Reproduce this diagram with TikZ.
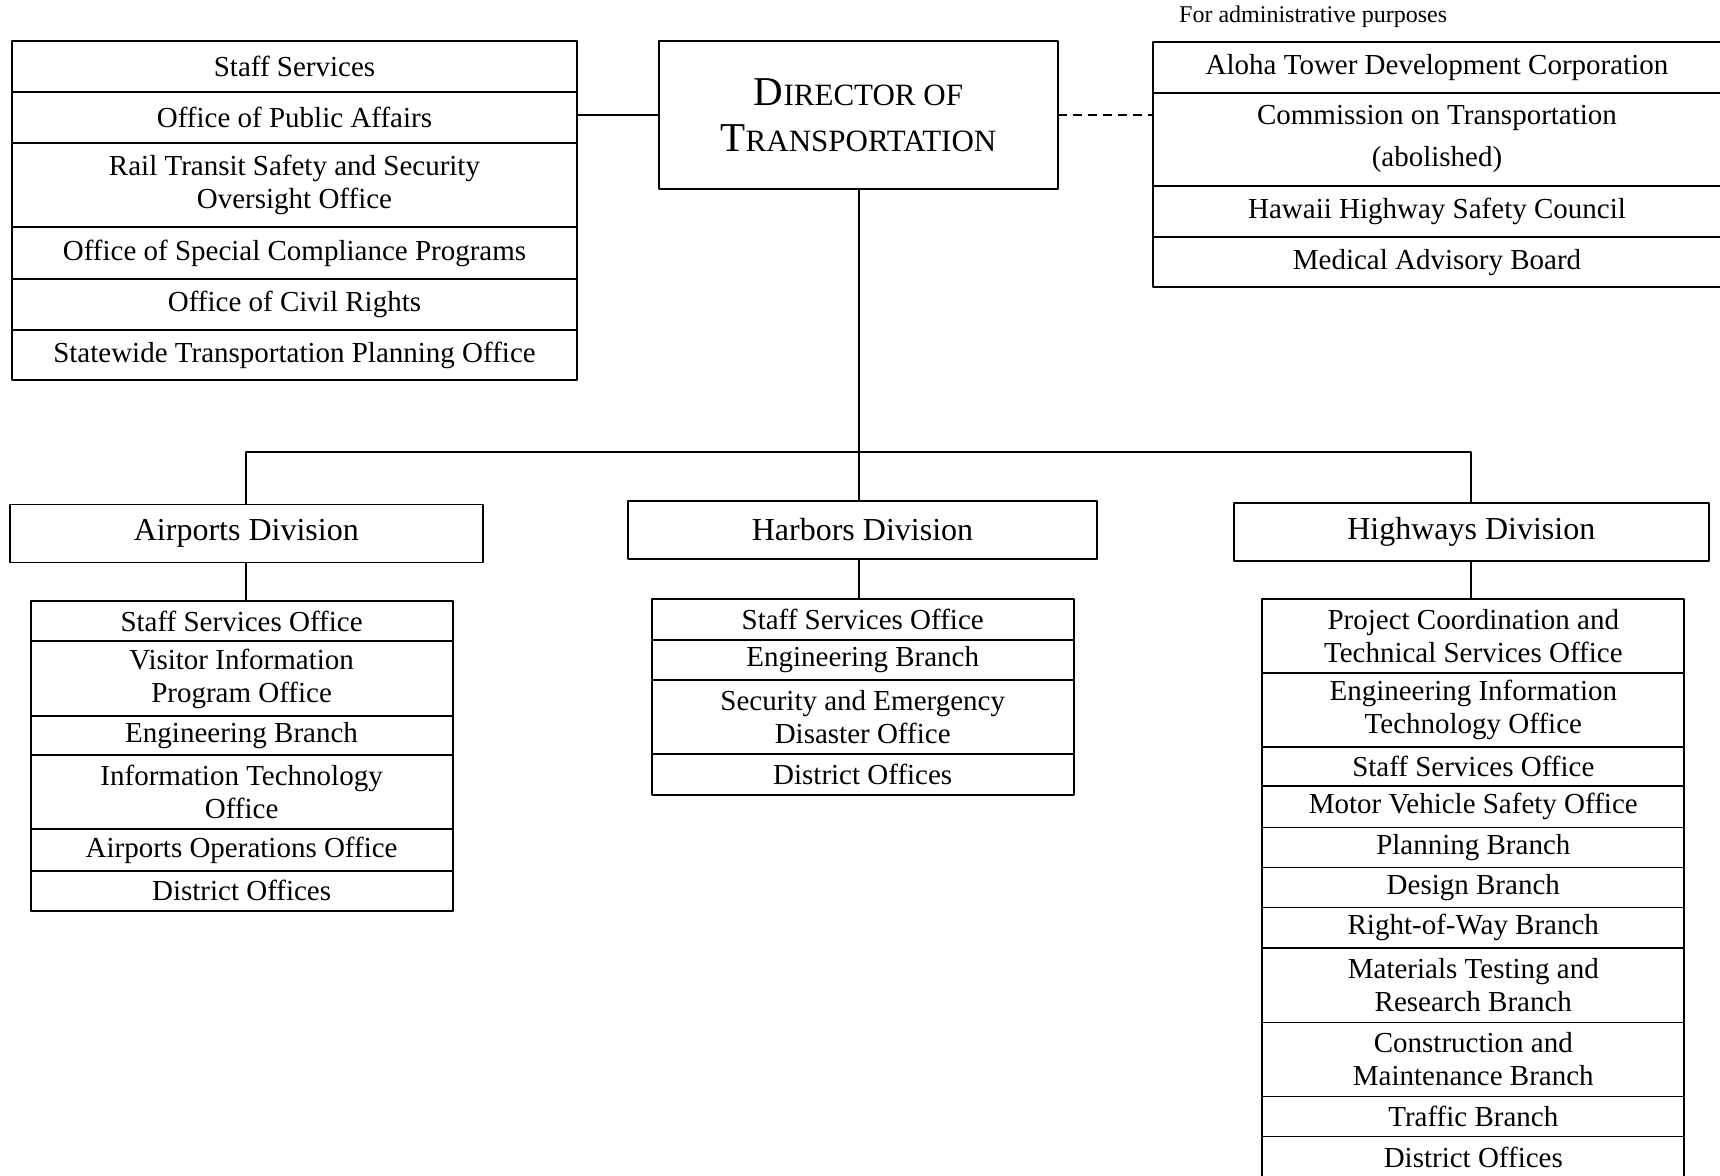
\documentclass[tikz,border=0pt]{standalone}
\usepackage{fontspec}
\setmainfont{Liberation Serif}
\newcommand{\cellfont}{\fontsize{29bp}{33bp}\selectfont}
\newcommand{\divfont}{\fontsize{32bp}{36bp}\selectfont}
\newcommand{\dirfont}{\fontsize{41bp}{46bp}\selectfont}
\newcommand{\lowcaps}[1]{{\fontsize{31bp}{46bp}\selectfont #1}}
\begin{document}
\begin{tikzpicture}[line join=bevel,
  unit/.style={draw,line width=1.8bp,inner sep=0pt,outer sep=0pt,align=center,font=\cellfont},
  leftcol/.style={unit,minimum width=565bp},
  rightcol/.style={unit,minimum width=580bp},
  subcol/.style={unit,minimum width=422bp},
  division/.style={unit,font=\divfont,minimum height=58bp},
  link/.style={line width=2bp},
  adminlink/.style={link,dash pattern=on 9bp off 6bp},
]
\useasboundingbox (0bp,0bp) rectangle (1720bp,1176bp);
%%
\node (director) at (858.5bp,1061.0bp) [unit,line width=1.5bp,font=\dirfont,minimum width=399bp,minimum height=148bp] {D\lowcaps{IRECTOR OF}\\T\lowcaps{RANSPORTATION}};
%
  \node (left_1) at (294.5bp,1109.8bp) [leftcol,minimum height=51bp] {Staff Services};
  \node (left_2) at (294.5bp,1058.8bp) [leftcol,minimum height=51bp] {Office of Public Affairs};
  \node (left_3) at (294.5bp,991.0bp) [leftcol,minimum height=84.6bp] {Rail Transit Safety and Security\\Oversight Office};
  \node (left_4) at (294.5bp,923.0bp) [leftcol,minimum height=51.4bp] {Office of Special Compliance Programs};
  \node (left_5) at (294.5bp,871.6bp) [leftcol,minimum height=51.3bp] {Office of Civil Rights};
  \node (left_6) at (294.5bp,821.0bp) [leftcol,minimum height=50bp] {Statewide Transportation Planning Office};
%
  \node (admin_note) at (1179bp,1153bp) [anchor=base west,inner sep=0pt,font=\fontsize{24bp}{28bp}\selectfont] {For administrative purposes};
  \node (right_1) at (1443bp,1108.6bp) [rightcol,minimum height=50.7bp] {\hspace*{-12bp}Aloha Tower Development Corporation};
  \node (right_2) at (1443bp,1036.8bp) [rightcol,minimum height=93bp] {\hspace*{-12bp}Commission on Transportation\\[9bp]\hspace*{-12bp}(abolished)};
  \node (right_3) at (1443bp,964.6bp) [rightcol,minimum height=51.3bp] {\hspace*{-12bp}Hawaii Highway Safety Council};
  \node (right_4) at (1443bp,913.8bp) [rightcol,minimum height=50.3bp] {\hspace*{-12bp}Medical Advisory Board};
%
  \node (air_div) at (246.3bp,642.5bp) [division,minimum width=473.4bp] {Airports Division};
  \node (harb_div) at (862.5bp,646.3bp) [division,minimum width=469bp] {Harbors Division};
  \node (hwy_div) at (1471.3bp,644.0bp) [division,minimum width=475.3bp] {Highways Division};
%
  \node (air_1) at (241.6bp,555.0bp) [subcol,minimum height=40bp] {Staff Services Office};
  \node (air_2) at (241.6bp,497.5bp) [subcol,minimum height=75bp] {Visitor Information\\Program Office};
  \node (air_3) at (241.6bp,440.3bp) [subcol,minimum height=39.3bp] {Engineering Branch};
  \node (air_4) at (241.6bp,383.7bp) [subcol,minimum height=74bp] {Information Technology\\Office};
  \node (air_5) at (241.6bp,326.0bp) [subcol,minimum height=41.4bp] {Airports Operations Office};
  \node (air_6) at (241.6bp,285.3bp) [subcol,minimum height=40bp] {District Offices};
%
  \node (harb_1) at (862.7bp,556.3bp) [subcol,minimum height=40.7bp] {Staff Services Office};
  \node (harb_2) at (862.7bp,516.0bp) [subcol,minimum height=40bp] {Engineering Branch};
  \node (harb_3) at (862.7bp,459.1bp) [subcol,minimum height=73.7bp] {Security and Emergency\\Disaster Office};
  \node (harb_4) at (862.7bp,401.8bp) [subcol,minimum height=41bp] {District Offices};
%
  \node (hwy_1) at (1473.3bp,540.0bp) [subcol,minimum height=74bp] {Project Coordination and\\Technical Services Office};
  \node (hwy_2) at (1473.3bp,466.1bp) [subcol,minimum height=73.8bp] {Engineering Information\\Technology Office};
  \node (hwy_3) at (1473.3bp,409.4bp) [subcol,minimum height=39.5bp] {Staff Services Office};
  \node (hwy_4) at (1473.3bp,369.1bp) [subcol,minimum height=41.2bp] {Motor Vehicle Safety Office};
  \node (hwy_5) at (1473.3bp,328.5bp) [subcol,minimum height=40bp] {Planning Branch};
  \node (hwy_6) at (1473.3bp,288.5bp) [subcol,minimum height=39.9bp] {Design Branch};
  \node (hwy_7) at (1473.3bp,248.1bp) [subcol,minimum height=40.9bp] {Right-of-Way Branch};
  \node (hwy_8) at (1473.3bp,190.6bp) [subcol,minimum height=74.1bp] {Materials Testing and\\Research Branch};
  \node (hwy_9) at (1473.3bp,116.5bp) [subcol,minimum height=74.1bp] {Construction and\\Maintenance Branch};
  \node (hwy_10) at (1473.3bp,59.5bp) [subcol,minimum height=40bp] {Traffic Branch};
  \node (hwy_11) at (1473.3bp,18.7bp) [subcol,minimum height=41.5bp] {District Offices};
%
  \coordinate (bus) at (858.5bp,724.0bp);
  \draw [link] (director.west) -- (director.west -| left_2.east);
  \draw [adminlink] (director.east) -- (director.east -| right_2.west);
  \draw [link] (director.south) -- (director.south |- harb_div.north);
  \draw [link] (air_div.north) |- (bus) -| (hwy_div.north);
  \draw [link] (air_div.south) -- (air_div.south |- air_1.north);
  \draw [link] (director.south |- harb_div.south) -- (director.south |- harb_1.north);
  \draw [link] (hwy_div.south) -- (hwy_div.south |- hwy_1.north);
%
\end{tikzpicture}
\end{document}
